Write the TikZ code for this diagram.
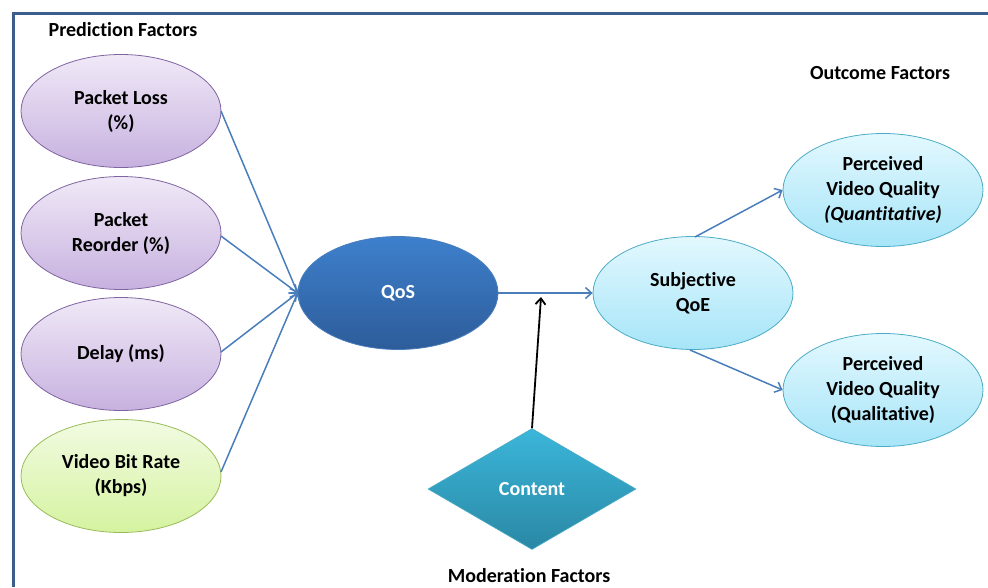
\documentclass[tikz,border=0pt]{standalone}
\usepackage{fontspec}
\setmainfont{Carlito}[Ligatures=NoCommon]
\usetikzlibrary{shapes.geometric,arrows.meta}

\definecolor{framecol}{HTML}{3B5E8C}
\definecolor{linkcol}{HTML}{4A7EBB}
\definecolor{purpletop}{HTML}{F0E9F7}
\definecolor{purplebot}{HTML}{C7B1DF}
\definecolor{purpleedge}{HTML}{8064A2}
\definecolor{greentop}{HTML}{F2FBE2}
\definecolor{greenbot}{HTML}{D5F3A0}
\definecolor{greenedge}{HTML}{9BBB59}
\definecolor{qostop}{HTML}{3E80CC}
\definecolor{qosbot}{HTML}{2D5C9A}
\definecolor{cyantop}{HTML}{E3F8FE}
\definecolor{cyanbot}{HTML}{A6E5F8}
\definecolor{cyanedge}{HTML}{4BACC6}
\definecolor{aquatop}{HTML}{3BB6DA}
\definecolor{aquabot}{HTML}{2A88A4}

\tikzset{
  factor/.style={ellipse, minimum width=200pt, minimum height=113pt, inner sep=0pt,
    align=center, font=\fontsize{20}{25}\selectfont\bfseries},
  predictor/.style={factor, draw=purpleedge, line width=0.8pt, top color=purpletop, bottom color=purplebot},
  bitrate/.style={factor, draw=greenedge, line width=0.8pt, top color=greentop, bottom color=greenbot},
  outcome/.style={factor, draw=cyanedge, line width=0.8pt, top color=cyantop, bottom color=cyanbot},
  heading/.style={font=\fontsize{20}{25}\selectfont\bfseries},
  link/.style={draw=linkcol, line width=1.5pt, -{Straight Barb[length=6pt,width=11pt]}},
}

\begin{document}
\begin{tikzpicture}[x=1pt,y=-1pt]
  \useasboundingbox (0,0) rectangle (988,587);

  % Frame
  \draw[framecol, line width=3pt] (13,587) -- (13,13) -- (988,13);

  % Group headings
  \node[heading] (predhead) at (123,30) {Prediction Factors};
  \node[heading] (outhead) at (880,73) {Outcome Factors};
  \node[heading] (modhead) at (529,576) {Moderation Factors};

  % Prediction factors
  \node[predictor] (loss) at (121,111) {Packet Loss\\(\%)};
  \node[predictor] (reorder) at (121,233) {Packet\\Reorder (\%)};
  \node[predictor] (delay) at (121,354) {Delay (ms)};
  \node[bitrate] (rate) at (121,476) {Video Bit Rate\\(Kbps)};

  % QoS and QoE
  \node[factor, draw=linkcol, line width=0.8pt, top color=qostop, bottom color=qosbot, text=white] (qos) at (398,293) {QoS};
  \node[outcome] (qoe) at (693,293) {Subjective\\QoE};

  % Outcome factors
  \node[outcome] (quant) at (883,190) {Perceived\\Video Quality\\\textit{(Quantitative)}};
  \node[outcome] (qual) at (883,390) {Perceived\\Video Quality\\(Qualitative)};

  % Moderation factor
  \node[diamond, minimum width=208pt, minimum height=121pt, inner sep=0pt,
    draw=cyanedge, line width=0.6pt, top color=aquatop, bottom color=aquabot,
    text=white, font=\fontsize{20}{25}\selectfont\bfseries] (content) at (532,489) {Content};
  \coordinate (hit) at (541,297);

  % Connectors
  \foreach \src/\y in {loss/111,reorder/236,delay/352,rate/472}
    \draw[link] (221,\y) -- (qos.west);
  \draw[link] (qos.east) -- (qoe.west);
  \draw[link] (695,237) -- (quant.west);
  \draw[link] (690,350) -- (qual.west);
  \draw[line width=1.8pt, -{Straight Barb[length=6pt,width=10pt]}] (content.north) -- (hit);
\end{tikzpicture}
\end{document}
